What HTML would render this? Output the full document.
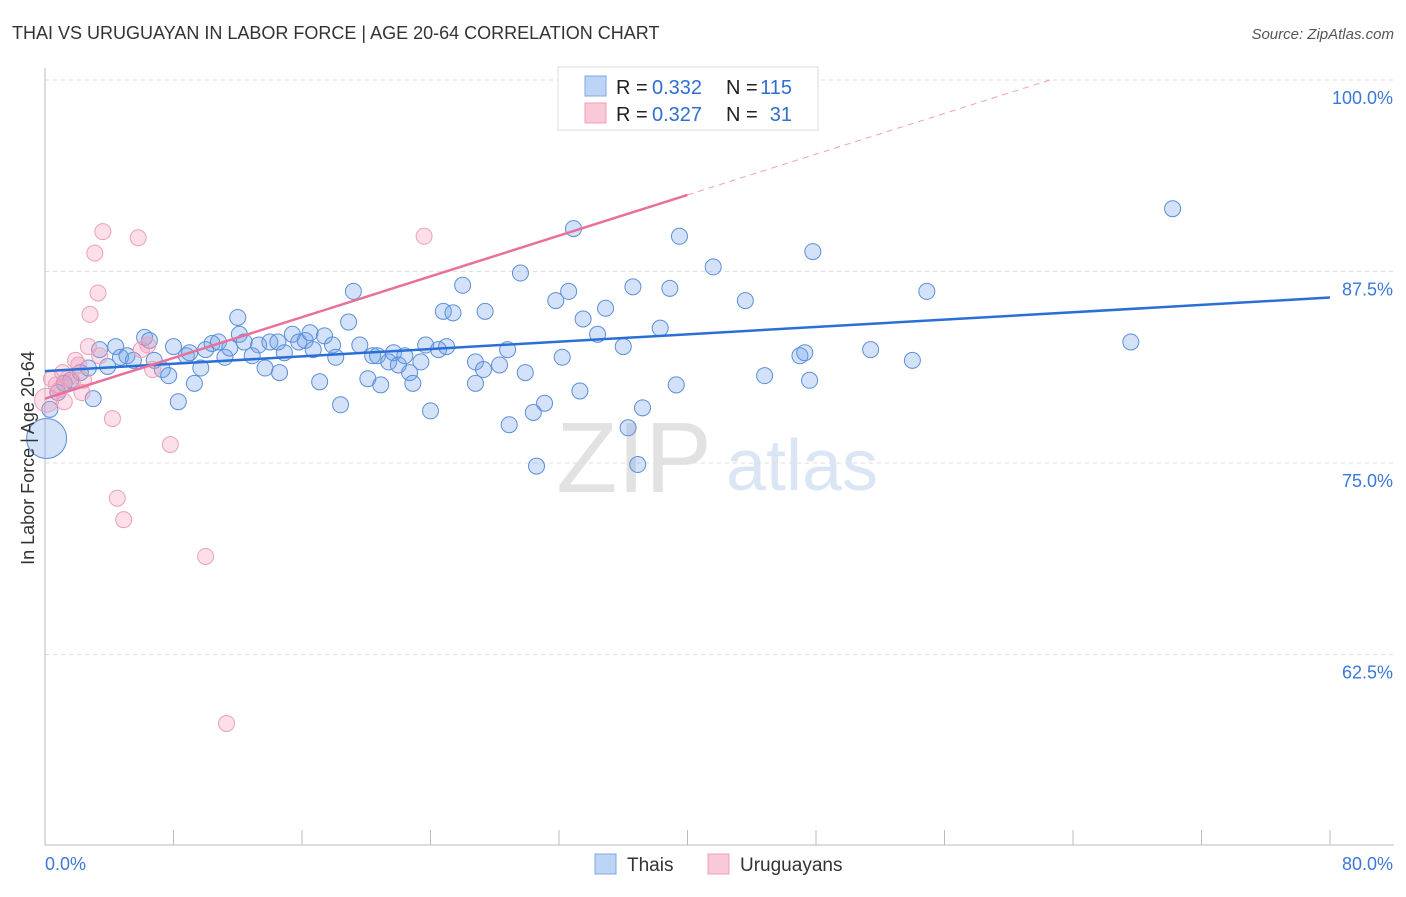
<!DOCTYPE html>
<html><head><meta charset="utf-8"><style>
body{margin:0;background:#fff;font-family:"Liberation Sans",sans-serif;}
svg text{font-family:"Liberation Sans",sans-serif;}
</style></head><body>
<svg id="chart" width="1406" height="892" viewBox="0 0 1406 892" xmlns="http://www.w3.org/2000/svg">
<text x="12" y="39" font-size="18" fill="#333">THAI VS URUGUAYAN IN LABOR FORCE | AGE 20-64 CORRELATION CHART</text>
<text x="1394" y="39" font-size="15" fill="#555" text-anchor="end" font-style="italic">Source: ZipAtlas.com</text>
<g>
<text x="634" y="492" font-size="100" fill="#e2e2e2" text-anchor="middle" font-family="Liberation Serif">ZIP</text>
<text x="802" y="490" font-size="72" fill="#dbe6f5" text-anchor="middle">atlas</text>
</g>
<g id="grid"></g>
<g id="axes"></g>
<g id="marks"></g>
<g>
<rect x="558" y="67" width="260" height="63" fill="#fff" stroke="#ddd"/>
<rect x="585" y="76" width="21" height="20" fill="#bcd4f5" stroke="#7ea8e6"/>
<rect x="585" y="103" width="21" height="20" fill="#f9c9d7" stroke="#eea0b8"/>
<text x="616" y="94" font-size="20" fill="#222">R =</text>
<text x="652" y="94" font-size="20" fill="#2f6fd0">0.332</text>
<text x="726" y="94" font-size="20" fill="#222">N =</text>
<text x="792" y="94" font-size="20" fill="#2f6fd0" text-anchor="end">115</text>
<text x="616" y="121" font-size="20" fill="#222">R =</text>
<text x="652" y="121" font-size="20" fill="#2f6fd0">0.327</text>
<text x="726" y="121" font-size="20" fill="#222">N =</text>
<text x="792" y="121" font-size="20" fill="#2f6fd0" text-anchor="end">31</text>
</g>
<g>
<rect x="595" y="854" width="21" height="20" fill="#bcd4f5" stroke="#7ea8e6"/>
<text x="627" y="871" font-size="19" fill="#333">Thais</text>
<rect x="708" y="854" width="21" height="20" fill="#f9c9d7" stroke="#eea0b8"/>
<text x="740" y="871" font-size="19" fill="#333">Uruguayans</text>
</g>
<text transform="translate(34,458) rotate(-90)" font-size="18" fill="#333" text-anchor="middle">In Labor Force | Age 20-64</text>
</svg>
<script>
const yTicks=[100,87.5,75,62.5];
const yTickLabels=["100.0%","87.5%","75.0%","62.5%"];
const xTickLabels=["0.0%","80.0%"];
const thaiX=[0.1,0.3,0.8,1.2,1.6,2.2,2.7,3.0,3.4,3.9,4.4,4.7,5.1,5.5,6.2,6.5,6.8,7.3,7.7,8.0,8.3,8.8,9.0,9.3,9.7,10.0,10.4,10.8,11.2,11.5,12.0,12.1,12.4,12.9,13.3,13.7,14.0,14.5,14.6,14.9,15.4,15.8,16.2,16.5,16.7,17.1,17.4,17.9,18.1,18.4,18.9,19.2,19.6,20.1,20.4,20.7,20.9,21.4,21.7,22.0,22.4,22.7,22.9,23.4,23.7,24.0,24.5,24.8,25.0,25.4,26.0,26.8,26.8,27.3,27.4,28.3,28.8,28.9,29.6,29.9,30.4,30.6,31.1,31.8,32.2,32.6,32.9,33.3,33.5,34.4,34.9,36.0,36.3,36.6,36.9,37.2,38.3,38.9,39.3,39.5,41.6,43.6,44.8,47.0,47.3,47.6,47.8,51.4,54.0,54.9,67.6,70.2];
const thaiY=[76.6,78.5,79.6,80.2,80.4,80.9,81.2,79.2,82.4,81.3,82.6,81.9,82.0,81.7,83.2,83.0,81.7,81.1,80.7,82.6,79.0,82.0,82.2,80.2,81.2,82.4,82.8,82.9,81.9,82.5,84.5,83.4,82.9,82.0,82.7,81.2,82.9,82.9,80.9,82.2,83.4,82.9,83.0,83.5,82.4,80.3,83.3,82.7,81.9,78.8,84.2,86.2,82.7,80.5,82.0,82.0,80.1,81.6,82.2,81.4,82.0,80.9,80.2,81.6,82.7,78.4,82.4,84.9,82.6,84.8,86.6,80.2,81.6,81.1,84.9,81.4,82.4,77.5,87.4,80.9,78.3,74.8,78.9,85.6,81.9,86.2,90.3,79.7,84.4,83.4,85.1,82.6,77.3,86.5,74.9,78.6,83.8,86.4,80.1,89.8,87.8,85.6,80.7,82.0,82.2,80.4,88.8,82.4,81.7,86.2,82.9,91.6];
const uruX=[0.1,0.4,0.7,0.9,1.1,1.2,1.4,1.7,1.9,2.1,2.3,2.4,2.7,2.8,3.1,3.3,3.4,3.6,4.2,4.5,4.9,5.8,6.0,6.4,6.7,7.8,10.0,11.3,23.6];
const uruY=[79.1,80.5,80.1,79.8,80.9,79.0,80.5,80.3,81.7,81.4,79.6,80.4,82.6,84.7,88.7,86.1,82.0,90.1,77.9,72.7,71.3,89.7,82.4,82.7,81.1,76.2,68.9,58.0,89.8];
const thaiTrend=[81.0,85.8];   // y at x=0 and x=80
const uruTrend=[79.2,92.5];    // y at x=0 and x=40
const X=v=>45+v*(1285/80);
const Y=v=>80+(100-v)*15.32;
const NS="http://www.w3.org/2000/svg";
function mk(tag,parent,attrs){const e=document.createElementNS(NS,tag);for(const k in attrs)e.setAttribute(k,attrs[k]);document.getElementById(parent).appendChild(e);return e;}
yTicks.forEach((t,i)=>{
 const l=mk('line','grid',{x1:45,x2:1394,y1:Y(t),y2:Y(t),stroke:'#ddd','stroke-dasharray':'4,4'});
 
 
 const tx=mk('text','axes',{x:1393,y:Y(t)+24,'font-size':18,fill:'#3b78d8','text-anchor':'end'});
 tx.textContent=yTickLabels[i];
 
 
});
const ax=mk('line','axes',{x1:45,x2:45,y1:68,y2:845,stroke:'#bbb'});


const bx=mk('line','axes',{x1:45,x2:1394,y1:845,y2:845,stroke:'#bbb'});


for(let v=0;v<=80;v+=8){const t=mk('line','axes',{x1:X(v),x2:X(v),y1:830,y2:845,stroke:'#bbb'});
 
 }
[[0,'start',45],[80,'end',1393]].forEach((d,i)=>{const t=mk('text','axes',{x:d[2],y:870,'font-size':18,fill:'#3b78d8','text-anchor':d[1]});t.textContent=xTickLabels[i];
 
 });
thaiX.forEach((x,i)=>{const r=i===0?20:8;const c=mk('circle','marks',{cx:X(x),cy:Y(thaiY[i]),r:r,fill:'rgba(110,160,235,0.3)',stroke:'#5b8fd8','stroke-width':1});
 
 });
uruX.forEach((x,i)=>{const r=i===0?12:8;const c=mk('circle','marks',{cx:X(x),cy:Y(uruY[i]),r:r,fill:'rgba(245,150,180,0.3)',stroke:'#eea0b8','stroke-width':1});
 
 });
const tl=mk('line','marks',{x1:X(0),y1:Y(thaiTrend[0]),x2:X(80),y2:Y(thaiTrend[1]),stroke:'#2a6fd6','stroke-width':2.5});


const ul=mk('line','marks',{x1:X(0),y1:Y(uruTrend[0]),x2:X(40),y2:Y(uruTrend[1]),stroke:'#e8709a','stroke-width':2.5});


const slope=(uruTrend[1]-uruTrend[0])/40;const xe=(100-uruTrend[0])/slope;
const ud=mk('line','marks',{x1:X(40),y1:Y(uruTrend[1]),x2:X(xe),y2:Y(100),stroke:'#eea0b8','stroke-width':1,'stroke-dasharray':'6,5'});


</script>
</body></html>
